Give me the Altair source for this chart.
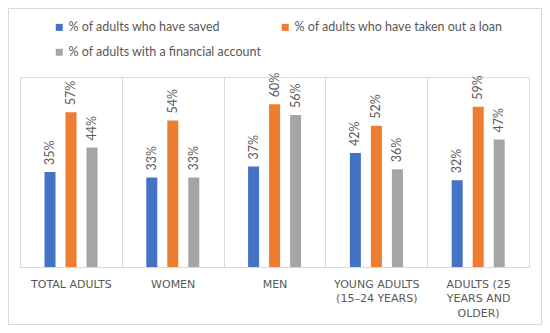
import json
import altair as alt
import pandas as pd

categories = ["Total adults", "Women", "Men", "Young adults (15–24 years)", "Adults (25 years and older)"]
label_lines = [["TOTAL ADULTS"], ["WOMEN"], ["MEN"], ["YOUNG ADULTS", "(15–24 YEARS)"], ["ADULTS (25", "YEARS AND", "OLDER)"]]
series = ["% of adults who have saved", "% of adults who have taken out a loan", "% of adults with a financial account"]
saved = [35, 33, 37, 42, 32]
loan = [57, 54, 60, 52, 59]
account = [44, 33, 56, 36, 47]
colors = ["#4472C4", "#ED7D31", "#A5A5A5"]

rows = []
for s, vals in zip(series, [saved, loan, account]):
    for c, v in zip(categories, vals):
        rows.append({"category": c, "series": s, "value": v / 100, "label": f"{v}%"})
df = pd.DataFrame(rows)

# legend lays out column-wise: order so that row 1 = saved, loan; row 2 = account
legend_order = [series[0], series[2], series[1]]
legend_colors = [colors[0], colors[2], colors[1]]

# multi-line axis labels
expr = "datum.value"
for c, lines in reversed(list(zip(categories, label_lines))):
    expr = f"datum.value == {json.dumps(c, ensure_ascii=False)} ? {json.dumps(lines, ensure_ascii=False)} : ({expr})"

FONT = "Lato"
TXT = "#595959"

base = alt.Chart(df).encode(
    x=alt.X(
        "category:N",
        sort=categories,
        scale=alt.Scale(paddingInner=0, paddingOuter=0),
        axis=alt.Axis(
            title=None,
            labelAngle=0,
            tickBand="extent",
            grid=True,
            gridColor="#d9d9d9",
            gridWidth=1,
            domainColor="#d9d9d9",
            ticks=False,
            labelExpr=expr,
            labelColor=TXT,
            labelFont="DejaVu Sans",
            labelFontSize=11,
            labelLineHeight=14.5,
            labelPadding=11,
            labelBaseline="top",
        ),
    ),
    xOffset=alt.XOffset("series:N", sort=series,
                        scale=alt.Scale(range=[24.5, 77.5], paddingInner=0.476, paddingOuter=0)),
    y=alt.Y("value:Q", scale=alt.Scale(domain=[0, 0.7]), axis=None),
)

bars = base.mark_bar().encode(
    color=alt.Color(
        "series:N",
        scale=alt.Scale(domain=legend_order, range=legend_colors),
        legend=alt.Legend(
            title=None,
            orient="none",
            legendX=33,
            legendY=-56,
            columns=2,
            symbolType="square",
            symbolSize=49,
            symbolStrokeWidth=0,
            labelFont=FONT,
            labelFontSize=12.5,
            labelColor=TXT,
            labelLimit=0,
            labelOffset=3,
            columnPadding=17,
            rowPadding=12,
        ),
    )
)

labels = base.mark_text(angle=270, align="left", baseline="middle", dx=7, font=FONT, fontSize=12.5, color=TXT).encode(
    text="label:N"
)

border = alt.Chart(alt.Data(values=[{}])).mark_rect(fill=None, stroke="#d9d9d9", strokeWidth=1).encode(
    x=alt.value(-11.5), x2=alt.value(521.5), y=alt.value(-68.5), y2=alt.value(247.5)
)

chart = alt.layer(border, bars, labels).properties(
    width=509,
    height=190,
    autosize=alt.AutoSizeParams(type="none"),
    padding={"left": 12, "top": 69, "right": 13, "bottom": 58},
).configure_view(stroke=None).configure(background="white")

chart.save("out.html", embed_options={"renderer": "svg", "actions": False})
